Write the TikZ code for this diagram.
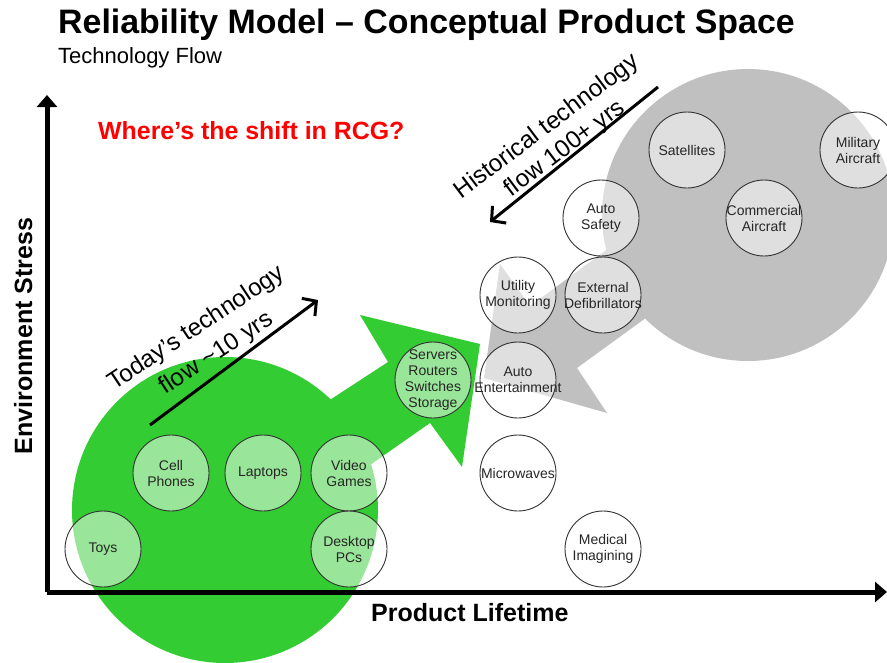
\documentclass[tikz,border=0pt]{standalone}
\usepackage{fontspec}
\setmainfont{Liberation Sans}
\usetikzlibrary{arrows.meta}
\definecolor{flowgreen}{HTML}{33CC33}
\definecolor{flowgrey}{HTML}{C0C0C0}
\definecolor{qred}{HTML}{FF0000}
\newcommand\bubble[3]{\node[bubble] (#1) at (#2) {}; \node[btext] (#1-t) at (#1) {#3};}
\begin{document}
\begin{tikzpicture}[x=1pt,y=-1pt,
  bubble/.style={circle, draw=black!80, line width=0.9pt, minimum size=76pt, inner sep=0pt, fill=white, fill opacity=0.5},
  btext/.style={align=center, font=\fontsize{14}{16}\selectfont, text=black!85, inner sep=0pt},
  axis/.style={line width=5pt, -{Triangle[length=12pt,width=20pt]}},
  flow/.style={line width=3pt, -{Straight Barb[length=10pt,width=22pt]}},
  flowtext/.style={anchor=base, inner sep=0pt, font=\fontsize{24.3}{30}\selectfont},
  axlabel/.style={inner sep=0pt, font=\fontsize{25}{30}\selectfont\bfseries}
]
\useasboundingbox (0,0) rectangle (887,662);
\clip (0,0) rectangle (887,662);
% grey historical blob
\fill[flowgrey] (748,215) circle[radius=146pt];
\fill[flowgrey] (680,196) -- (530,306) -- (500,264) -- (484,378) -- (607,413) -- (577,368) -- (720,264) -- cycle;
% green today blob
\fill[flowgreen] (225,510) circle[radius=153pt];
\fill[flowgreen] (250,452) -- (388,362) -- (360,315) -- (480,344) -- (462,467) -- (430,423) -- (290,521) -- cycle;
% axes
\coordinate (origin) at (47,592);
\coordinate (ytip) at (47,95);
\coordinate (xtip) at (887,592);
\draw[axis] (origin) -- (ytip);
\draw[axis] (origin) -- (xtip);
% bubbles
\bubble{toys}{103,549}{Toys}
\bubble{cell}{171,473}{Cell\\Phones}
\bubble{laptops}{263,473}{Laptops}
\bubble{video}{349,473}{Video\\Games}
\bubble{desktop}{349,549}{Desktop\\PCs}
\bubble{servers}{433,380}{Servers\\Routers\\Switches\\Storage}
\bubble{utility}{518,295}{Utility\\Monitoring}
\bubble{autoent}{518,380}{Auto\\Entertainment}
\bubble{micro}{518,473}{Microwaves}
\bubble{medical}{603,549}{Medical\\Imagining}
\bubble{defib}{603,295}{External\\Defibrillators}
\bubble{autosafe}{601,218}{Auto\\Safety}
\bubble{sat}{687,150}{Satellites}
\bubble{comm}{764,218}{Commercial\\Aircraft}
\bubble{mil}{858,150}{Military\\Aircraft}
% titles
\node[anchor=base west, inner sep=0pt, font=\fontsize{33.9}{40}\selectfont\bfseries] (title) at (58,33) {Reliability Model – Conceptual Product Space};
\node[anchor=base west, inner sep=0pt, font=\fontsize{22}{26}\selectfont] (subtitle) at (58,63) {Technology Flow};
\node[anchor=base west, inner sep=0pt, text=qred, font=\fontsize{24.9}{29}\selectfont\bfseries] (question) at (98,139) {Where’s the shift in RCG?};
% axis labels
\node[axlabel, anchor=base west] (xlabel) at (371,621) {Product Lifetime};
\node[axlabel, rotate=90, anchor=base] (ylabel) at (32,336) {Environment Stress};
% flow arrows
\coordinate (ta) at (150,425);
\coordinate (tb) at (318,300);
\draw[flow] (ta) -- (tb);
\node[flowtext, rotate=33.5] (today1) at (200,334) {Today’s technology};
\node[flowtext, rotate=33.5] (today2) at (220,359) {flow \textasciitilde10 yrs};
\coordinate (ha) at (658,87);
\coordinate (hb) at (490,222);
\draw[flow] (ha) -- (hb);
\node[flowtext, rotate=37] (hist1) at (551,132) {Historical technology};
\node[flowtext, rotate=37] (hist2) at (569,154) {flow 100+ yrs};
\end{tikzpicture}
\end{document}
